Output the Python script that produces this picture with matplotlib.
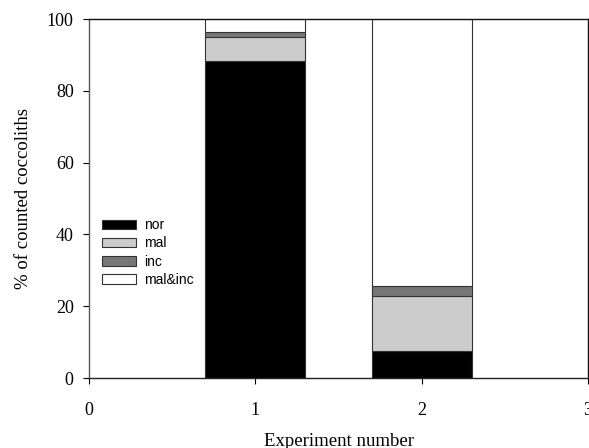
import matplotlib
matplotlib.use("Agg")
import matplotlib.pyplot as plt
import numpy as np

experiments = [1, 2]
nor = [88.3, 7.6]
mal = [6.8, 15.2]
inc = [1.3, 2.8]
mal_inc = [3.6, 74.4]
series_labels = ["nor", "mal", "inc", "mal&inc"]
series_colors = ["#000000", "#cccccc", "#777777", "#ffffff"]
yticks = [0, 20, 40, 60, 80, 100]
xticks = [0, 1, 2, 3]

fig = plt.figure(figsize=(5.89, 4.48), dpi=100)
ax = fig.add_axes([89/589, 70/448, 499/589, 359/448])

bottom = np.zeros(len(experiments))
for vals, lab, col in zip([nor, mal, inc, mal_inc], series_labels, series_colors):
    ax.bar(experiments, vals, width=0.6, bottom=bottom, color=col,
           edgecolor="#333333", linewidth=0.8, label=lab)
    bottom += np.array(vals)

ax.set_xlim(0, 3)
ax.set_ylim(0, 100)
ax.set_xticks(xticks)
ax.set_yticks(yticks)

serif = "Liberation Serif"
for lbl in ax.get_xticklabels() + ax.get_yticklabels():
    lbl.set_fontfamily(serif)
    lbl.set_fontsize(13)
ax.tick_params(axis="x", direction="out", length=4, pad=13, width=0.8)
ax.tick_params(axis="y", direction="out", length=4, pad=7, width=0.8)
ax.set_xlabel("Experiment number", fontfamily=serif, fontsize=13.5, labelpad=10)
ax.set_ylabel("% of counted coccoliths", fontfamily=serif, fontsize=13.5, labelpad=11)

for s in ["left", "bottom", "top", "right"]:
    ax.spines[s].set_linewidth(1.0)
ax.spines["left"].set_color("#555555")
ax.spines["bottom"].set_color("#222222")
ax.spines["top"].set_color("#111111")
ax.spines["right"].set_color("#111111")

leg = ax.legend(loc="upper left", bbox_to_anchor=(0.027, 0.445), frameon=False,
                prop={"family": "Liberation Sans", "size": 10},
                handlelength=2.4, handleheight=0.7, labelspacing=0.3,
                handletextpad=0.6, borderpad=0, borderaxespad=0)

fig.savefig("out.png", dpi=100)
